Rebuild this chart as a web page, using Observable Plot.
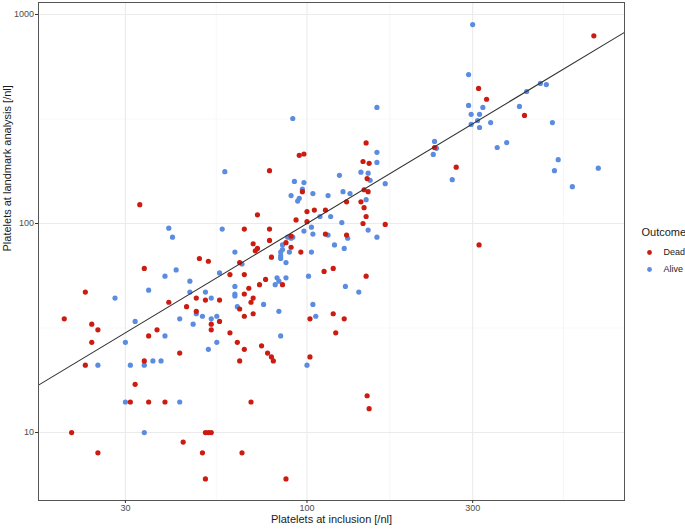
<!DOCTYPE html>
<html><head><meta charset="utf-8">
<script src="https://cdn.jsdelivr.net/npm/d3@7"></script>
<script src="https://cdn.jsdelivr.net/npm/@observablehq/plot@0.6"></script>
<style>body{margin:0;background:#fff} #chart{width:685px;height:529px}</style>
</head><body><div id="chart"></div>
<script>
const outcomes = ["Dead", "Alive"];
const outcomeColors = ["#CC1B10", "#5B8CE0"];

const deadX = [670,312,329,423,233,269,313,148,95,98,145,151,78,149,97,146,150,143,130,146,100,105,113,72,148,93,100,145,168,66,78,113,130,90,78,87,70,72,71,90,96,79,49,52,64,34,60,66,76,73,85,112,119,148,68,66,23,48,51,56,70,69,40,45,64,48,70,66,102,119,128,20,56,24,53,25,37,53,60,121,35,24,63,74,66,43,77,79,80,64,102,34,23,32,149,151,31,35,39,69,21,51,52,53,44,25,50,65,51,87,33];
const deadY = [790,443,393,329,231,186,79,243,212,215,198,194,179,164,142,145,142,127,127,119,114,116,116,110,108,104,102,100,99,94,94,89,88,87,83,81,80,76,74,77,73,69,68,66,65,61,57,57,54,51,51,59,61,56,49,46,47,44,43,43,44,42,42,40,39,38,37,36,35,37,35,35,34,33,33,31,31,31,30,30,29,27,27,26,25,24,24,23,22,22,23,22,21,17,15,13,14,14,14,14,10,10,10,10,9,8,8,8,6,6,123];

const aliveX = [300,292,470,489,429,292,321,409,297,314,310,297,314,338,509,353,376,529,516,690,581,262,233,236,231,159,91,159,159,58,124,143,150,152,92,98,168,97,104,90,95,94,115,127,133,148,109,117,126,103,98,150,104,115,131,159,57,40,41,88,90,91,85,85,84,84,84,89,87,62,103,65,120,128,42,39,56,82,87,83,81,46,101,62,62,62,35,46,51,53,28,75,63,83,48,50,55,104,106,129,141,43,53,32,47,39,84,30,55,52,100,36,38,34,25,31,30,43,34];
const aliveY = [895,516,468,462,428,367,359,363,333,333,311,298,288,304,304,231,244,202,179,184,150,162,247,229,214,359,318,219,196,177,170,176,174,161,159,157,155,146,139,136,132,128,136,142,139,130,108,108,101,96,92,93,89,88,85,86,94,95,86,86,85,86,79,75,73,70,68,73,65,73,73,64,79,76,60,56,58,55,55,53,51,53,56,50,46,45,48,47,47,44,44,41,40,38,37,36,36,41,36,50,47,35,35,34,33,29,29,27,27,25,21,22,22,21,21,21,14,14,10];

const xBreaks = [30, 100, 300];
const yBreaks = [10, 100, 1000];
const xLimits = [16.86, 821];
const yLimits = [4.73, 1141];

const rows = [
  ...aliveX.map((x, i) => ({x, y: aliveY[i], outcome: "Alive"})),
  ...deadX.map((x, i) => ({x, y: deadY[i], outcome: "Dead"}))
];
const geoMid = (a, b) => Math.sqrt(a * b);
const xMinor = [geoMid(30, 100), geoMid(100, 300), geoMid(300, 1000)];
const yMinor = [geoMid(10, 100), geoMid(100, 1000)];

const font = "'Liberation Sans', Arial, Helvetica, sans-serif";

const legendMarks = [
  Plot.text(["Outcome"], {frameAnchor: "right", dx: 17, dy: -19, textAnchor: "start", fontSize: 11, fill: "#1a1a1a"}),
  ...outcomes.map((o, i) => Plot.dot([o], {frameAnchor: "right", dx: 25, dy: 1 + 17 * i, fill: d => d, r: 2.4})),
  ...outcomes.map((o, i) => Plot.text([o], {frameAnchor: "right", dx: 39, dy: 1 + 17 * i, textAnchor: "start", fontSize: 9, fill: "#1a1a1a"}))
];

const plot = Plot.plot({
  width: 685, height: 529,
  marginLeft: 38, marginRight: 61, marginTop: 2, marginBottom: 29,
  style: {fontFamily: font, background: "#fff"},
  x: {type: "log", domain: xLimits},
  y: {type: "log", domain: yLimits},
  color: {domain: outcomes, range: outcomeColors},
  marks: [
    Plot.gridX(xMinor, {stroke: "#F4F4F4", strokeOpacity: 1, strokeWidth: 0.7}),
    Plot.gridY(yMinor, {stroke: "#F4F4F4", strokeOpacity: 1, strokeWidth: 0.7}),
    Plot.gridX(xBreaks, {stroke: "#EBEBEB", strokeOpacity: 1, strokeWidth: 1.1}),
    Plot.gridY(yBreaks, {stroke: "#EBEBEB", strokeOpacity: 1, strokeWidth: 1.1}),
    Plot.dot(rows, {x: "x", y: "y", fill: "outcome", r: 2.6}),
    Plot.line(xLimits, {x: d => d, y: d => d, stroke: "#333", strokeWidth: 1.1}),
    Plot.frame({stroke: "#555", strokeWidth: 1}),
    Plot.axisX(xBreaks, {tickSize: 3, tickPadding: 1.5, fontSize: 9, tickFormat: d => String(d), label: null, stroke: "#333", fill: "#4D4D4D"}),
    Plot.axisY(yBreaks, {tickSize: 3, tickPadding: 1.5, fontSize: 9, tickFormat: d => String(d), label: null, stroke: "#333", fill: "#4D4D4D"}),
    Plot.text(["Platelets at inclusion [/nl]"], {frameAnchor: "bottom", dy: 22.5, fontSize: 11, fill: "#1a1a1a"}),
    Plot.text(["Platelets at landmark analysis [/nl]"], {frameAnchor: "left", dx: -31, rotate: -90, fontSize: 11, fill: "#1a1a1a"}),
    ...legendMarks
  ]
});
document.getElementById("chart").appendChild(plot);
</script>
</body></html>
